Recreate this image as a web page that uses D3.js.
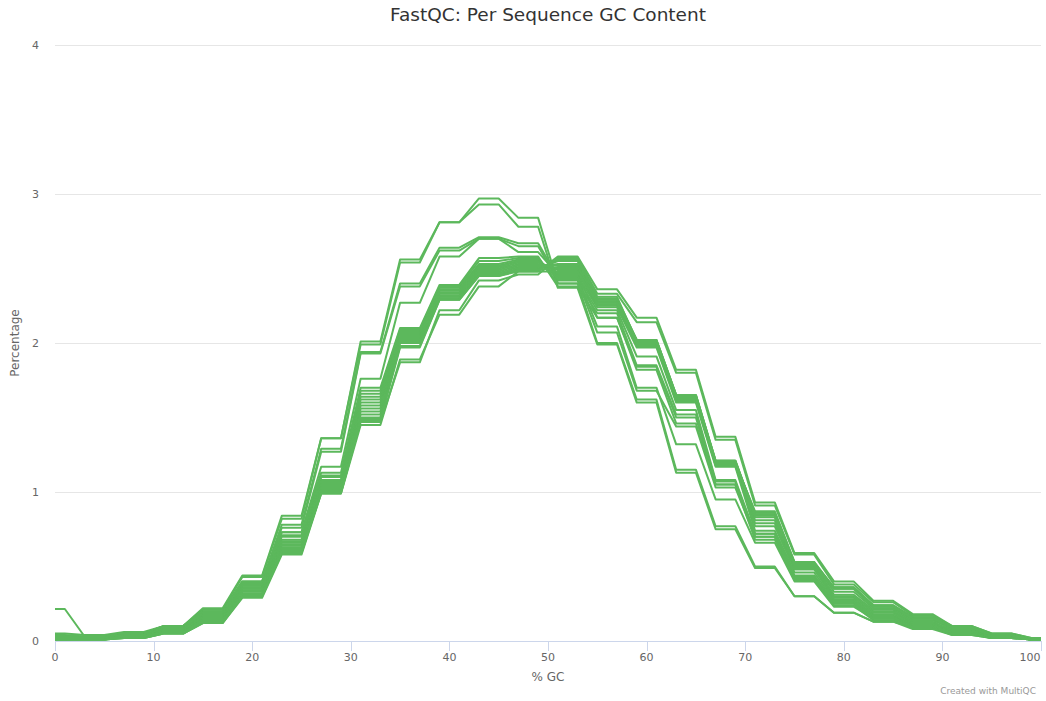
<!DOCTYPE html>
<html>
<head>
<meta charset="utf-8">
<script src="https://cdn.jsdelivr.net/npm/d3@7"></script>
<style>
    body { margin: 0; background: #fff; }
    text { font-family: "DejaVu Sans", sans-serif; }
</style>
</head>
<body>
<script>
// GC bins: each plateau spans [from, to] % GC
const gcBins = [[0, 1], [3, 5], [7, 9], [11, 13], [15, 17], [19, 21], [23, 25], [27, 29], [31, 33],
    [35, 37], [39, 41], [43, 45], [47, 49], [51, 53], [55, 57], [59, 61], [63, 65], [67, 69],
    [71, 73], [75, 77], [79, 81], [83, 85], [87, 89], [91, 93], [95, 97], [99, 100]];

// Percentage of reads per plateau, one array per sample
const sA1 = [0.01, 0.02, 0.05, 0.10, 0.22, 0.44, 0.84, 1.36, 2.01, 2.56, 2.81, 2.97, 2.84, 2.40, 2.00, 1.62, 1.15, 0.77, 0.50, 0.30, 0.19, 0.13, 0.09, 0.04, 0.02, 0.01];
const sA2 = [0.01, 0.02, 0.05, 0.10, 0.21, 0.43, 0.82, 1.36, 1.99, 2.54, 2.81, 2.93, 2.78, 2.37, 1.99, 1.60, 1.13, 0.75, 0.49, 0.30, 0.19, 0.13, 0.08, 0.04, 0.02, 0.01];
const sB1 = [0.02, 0.02, 0.04, 0.09, 0.20, 0.40, 0.78, 1.29, 1.94, 2.40, 2.64, 2.71, 2.67, 2.44, 2.11, 1.70, 1.32, 0.95, 0.66, 0.40, 0.23, 0.15, 0.10, 0.05, 0.02, 0.01];
const sB2 = [0.02, 0.02, 0.04, 0.09, 0.19, 0.39, 0.76, 1.27, 1.93, 2.38, 2.62, 2.70, 2.65, 2.42, 2.07, 1.68, 1.44, 1.03, 0.70, 0.43, 0.26, 0.16, 0.11, 0.06, 0.03, 0.01];
const sC = [0.03, 0.02, 0.04, 0.08, 0.18, 0.37, 0.73, 1.17, 1.76, 2.27, 2.58, 2.70, 2.61, 2.46, 2.17, 1.82, 1.46, 1.05, 0.72, 0.43, 0.26, 0.16, 0.11, 0.06, 0.03, 0.01];
const sD1 = [0.01, 0.01, 0.02, 0.05, 0.12, 0.29, 0.58, 0.99, 1.45, 1.89, 2.19, 2.38, 2.48, 2.58, 2.36, 2.17, 1.82, 1.37, 0.93, 0.59, 0.40, 0.27, 0.18, 0.10, 0.05, 0.02];
const sD2 = [0.01, 0.01, 0.02, 0.05, 0.12, 0.30, 0.59, 1.00, 1.47, 1.87, 2.22, 2.42, 2.46, 2.57, 2.33, 2.14, 1.80, 1.35, 0.91, 0.58, 0.38, 0.26, 0.17, 0.10, 0.05, 0.02];
const sM1 = [0.05, 0.04, 0.06, 0.10, 0.20, 0.40, 0.73, 1.13, 1.70, 2.10, 2.39, 2.57, 2.58, 2.38, 2.17, 1.84, 1.50, 1.05, 0.68, 0.41, 0.24, 0.14, 0.09, 0.05, 0.02, 0.01];
const sM2 = [0.04, 0.03, 0.05, 0.10, 0.19, 0.39, 0.71, 1.11, 1.68, 2.09, 2.38, 2.55, 2.57, 2.40, 2.20, 1.85, 1.52, 1.07, 0.70, 0.42, 0.25, 0.15, 0.10, 0.05, 0.02, 0.01];
const sM3 = [0.215, 0.03, 0.05, 0.09, 0.19, 0.38, 0.70, 1.10, 1.66, 2.08, 2.37, 2.53, 2.56, 2.43, 2.22, 1.91, 1.55, 1.08, 0.72, 0.44, 0.26, 0.16, 0.10, 0.06, 0.03, 0.01];
const sM4 = [0.03, 0.03, 0.05, 0.09, 0.18, 0.37, 0.68, 1.08, 1.64, 2.07, 2.36, 2.52, 2.55, 2.45, 2.24, 1.97, 1.60, 1.17, 0.74, 0.46, 0.27, 0.17, 0.11, 0.06, 0.03, 0.01];
const sM5 = [0.03, 0.02, 0.04, 0.08, 0.17, 0.36, 0.67, 1.07, 1.62, 2.06, 2.35, 2.51, 2.55, 2.47, 2.25, 1.98, 1.61, 1.18, 0.77, 0.48, 0.28, 0.18, 0.11, 0.06, 0.03, 0.01];
const sM6 = [0.02, 0.02, 0.04, 0.08, 0.17, 0.35, 0.66, 1.06, 1.60, 2.05, 2.34, 2.50, 2.54, 2.49, 2.26, 1.99, 1.62, 1.19, 0.79, 0.49, 0.29, 0.19, 0.12, 0.07, 0.03, 0.01];
const sM7 = [0.02, 0.02, 0.04, 0.08, 0.16, 0.35, 0.65, 1.05, 1.58, 2.04, 2.33, 2.49, 2.53, 2.50, 2.27, 2.00, 1.63, 1.20, 0.81, 0.50, 0.30, 0.20, 0.12, 0.07, 0.03, 0.01];
const sM8 = [0.02, 0.02, 0.04, 0.07, 0.16, 0.34, 0.64, 1.04, 1.56, 2.03, 2.32, 2.48, 2.52, 2.52, 2.28, 2.01, 1.64, 1.21, 0.83, 0.51, 0.31, 0.21, 0.13, 0.07, 0.04, 0.01];
const sM9 = [0.02, 0.02, 0.03, 0.07, 0.15, 0.33, 0.63, 1.03, 1.54, 2.02, 2.31, 2.47, 2.51, 2.53, 2.29, 2.02, 1.65, 1.21, 0.85, 0.52, 0.33, 0.22, 0.14, 0.08, 0.04, 0.01];
const sM10 = [0.01, 0.01, 0.03, 0.06, 0.15, 0.32, 0.62, 1.02, 1.52, 2.01, 2.30, 2.46, 2.50, 2.55, 2.30, 2.02, 1.65, 1.20, 0.86, 0.53, 0.35, 0.23, 0.15, 0.08, 0.04, 0.01];
const sM11 = [0.01, 0.01, 0.03, 0.06, 0.14, 0.31, 0.61, 1.01, 1.50, 2.00, 2.30, 2.46, 2.49, 2.56, 2.31, 2.01, 1.64, 1.19, 0.87, 0.53, 0.36, 0.24, 0.16, 0.09, 0.04, 0.01];
const sM12 = [0.01, 0.01, 0.03, 0.06, 0.14, 0.31, 0.60, 1.00, 1.49, 1.98, 2.29, 2.45, 2.49, 2.51, 2.29, 2.00, 1.63, 1.18, 0.86, 0.52, 0.36, 0.24, 0.16, 0.09, 0.04, 0.01];
const sM13 = [0.01, 0.01, 0.02, 0.05, 0.13, 0.30, 0.60, 0.99, 1.48, 1.97, 2.29, 2.45, 2.48, 2.48, 2.27, 2.02, 1.65, 1.21, 0.84, 0.51, 0.35, 0.23, 0.15, 0.09, 0.04, 0.01];

const samples = [sA1, sA2, sB1, sB2, sC, sD1, sD2, sM1, sM2, sM3, sM4, sM5, sM6, sM7, sM8, sM9, sM10, sM11, sM12, sM13];

const xTicks = [0, 10, 20, 30, 40, 50, 60, 70, 80, 90, 100];
const yTicks = [0, 1, 2, 3, 4];

var width = 1046, height = 701;
var margin = { top: 45, right: 5, bottom: 60, left: 55 };

var svg = d3.select("body").append("svg")
    .attr("width", width)
    .attr("height", height);

var x = d3.scaleLinear().domain([0, 100]).range([margin.left, width - margin.right]);
var y = d3.scaleLinear().domain([0, 4]).range([height - margin.bottom, margin.top]);

// title
svg.append("text")
    .attr("x", (margin.left + width - margin.right) / 2)
    .attr("y", 21)
    .attr("text-anchor", "middle")
    .style("font-size", "18.5px")
    .style("fill", "#333")
    .text("FastQC: Per Sequence GC Content");

// grid lines + y labels
var yAxis = svg.append("g");
yTicks.forEach(function (t) {
    if (t > 0) {
        yAxis.append("line")
            .attr("x1", x(0)).attr("x2", x(100))
            .attr("y1", y(t) + 0.5).attr("y2", y(t) + 0.5)
            .attr("stroke", "#e6e6e6");
    }
    yAxis.append("text")
        .attr("x", 39)
        .attr("y", y(t) + 4)
        .attr("text-anchor", "end")
        .style("font-size", "11px")
        .style("fill", "#666")
        .text(t);
});

svg.append("text")
    .attr("transform", "translate(19," + y(2) + ") rotate(-90)")
    .attr("text-anchor", "middle")
    .style("font-size", "12px")
    .style("fill", "#666")
    .text("Percentage");

// x axis
var xAxis = svg.append("g");
xAxis.append("line")
    .attr("x1", x(0)).attr("x2", x(100))
    .attr("y1", y(0) + 0.5).attr("y2", y(0) + 0.5)
    .attr("stroke", "#ccd6eb");
xTicks.forEach(function (t) {
    var px = Math.round(x(t)) + 0.5;
    xAxis.append("line")
        .attr("x1", px).attr("x2", px)
        .attr("y1", y(0)).attr("y2", y(0) + 10)
        .attr("stroke", "#ccd6eb");
    xAxis.append("text")
        .attr("x", Math.min(x(t), width - 16))
        .attr("y", y(0) + 20)
        .attr("text-anchor", "middle")
        .style("font-size", "11px")
        .style("fill", "#666")
        .text(t);
});

svg.append("text")
    .attr("x", (margin.left + width - margin.right) / 2)
    .attr("y", 681)
    .attr("text-anchor", "middle")
    .style("font-size", "12px")
    .style("fill", "#666")
    .text("% GC");

svg.append("text")
    .attr("x", width - 10)
    .attr("y", 694)
    .attr("text-anchor", "end")
    .style("font-size", "9px")
    .style("fill", "#999")
    .text("Created with MultiQC");

// lines: each plateau contributes its two edge points
var line = d3.line()
    .x(function (d) { return x(d[0]); })
    .y(function (d) { return y(d[1]); });

samples.forEach(function (vals) {
    var pts = [];
    gcBins.forEach(function (b, i) {
        pts.push([b[0], vals[i]]);
        pts.push([b[1], vals[i]]);
    });
    svg.append("path")
        .attr("d", line(pts))
        .attr("fill", "none")
        .attr("stroke", "#5cb85c")
        .attr("stroke-width", 2)
        .attr("stroke-linejoin", "round");
});
</script>
</body>
</html>
